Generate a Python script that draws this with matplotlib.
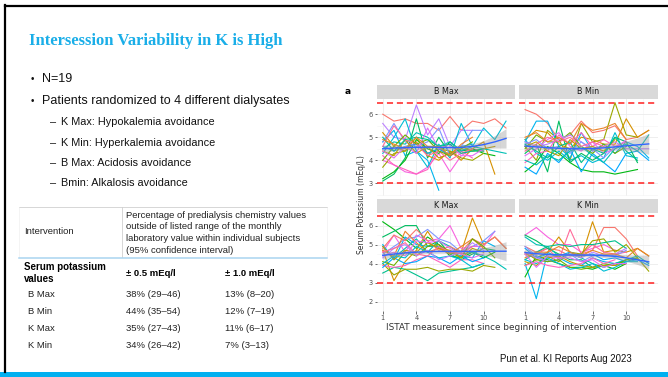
import numpy as np
import matplotlib
matplotlib.use("Agg")
import matplotlib.pyplot as plt

W, H = 668, 377

# ---- slide text ----
title = "Intersession Variability in K is High"
bullets = ["N=19", "Patients randomized to 4 different dialysates"]
sub_bullets = ["K Max: Hypokalemia avoidance",
               "K Min: Hyperkalemia avoidance",
               "B Max: Acidosis avoidance",
               "Bmin: Alkalosis avoidance"]
table_head = ["Percentage of predialysis chemistry values",
              "outside of listed range of the monthly",
              "laboratory value within individual subjects",
              "(95% confidence interval)"]
row_names = ["B Max", "B Min", "K Max", "K Min"]
within_05 = ["38% (29\u201346)", "44% (35\u201354)", "35% (27\u201343)", "34% (26\u201342)"]
within_10 = ["13% (8\u201320)", "12% (7\u201319)", "11% (6\u201317)", "7% (3\u201313)"]
citation = "Pun et al. KI Reports Aug 2023"

# ---- chart data: serum K per patient (key = patient number 0..18) ----
panel_names = ["B Max", "B Min", "K Max", "K Min"]

bmax_k = {
    0: [6.0, 5.7, 5.8, 5.6, 5.6, 5.3, 5.9, 5.3, 5.7, 5.6, 5.8, 5.4],
    14: [5.6, 5.0, 4.9, 6.4, 5.1, 5.8, 4.6, 5.3, 5.3],
    16: [4.0, 3.8, 3.5, 3.4, 3.7, 4.3, 3.5, 4.2, 4.5, 4.4],
    10: [4.3, 5.0, 5.8, 4.4, 3.7, 4.7, 4.1, 5.6, 4.6, 5.4, 4.9, 5.7],
    11: [4.8, 5.3, 4.2, 4.4, 4.0, 2.7],
    7: [3.1, 3.4, 4.1, 5.8, 4.1, 5.0, 4.3, 4.5, 4.4, 4.4],
    6: [3.2, 3.5, 4.0, 4.9, 4.5, 4.3, 4.8, 4.4, 4.5, 4.3, 4.2],
    2: [5.2, 4.6, 4.4, 4.8, 4.2, 4.0, 4.4, 4.0, 4.5, 4.8, 3.4],
    4: [3.7, 4.3, 4.4, 5.0, 4.3, 4.5, 4.4, 4.1, 4.0, 4.3],
    17: [4.2, 3.8, 3.6, 3.4, 3.6, 4.5, 4.2, 4.4, 4.1],
    9: [4.5, 4.8, 4.7, 5.2, 5.0, 4.6, 4.8, 4.4, 4.6, 4.5, 4.4, 4.3],
    12: [4.6, 4.4, 4.6, 4.7, 4.3, 4.5, 4.2, 4.6, 4.7],
    13: [4.8, 5.6, 4.8, 4.6, 4.8, 5.4, 4.2, 4.6, 5.3, 5.3],
    3: [4.4, 4.2, 4.9, 4.3, 4.6, 4.1, 4.3, 4.6, 4.4, 4.5, 4.6],
    18: [4.6, 5.5, 4.9, 4.7, 4.2, 4.4, 4.0, 4.3, 4.5],
    5: [4.0, 4.6, 5.1, 4.7, 4.9, 4.4, 4.2, 4.5, 4.8],
    15: [4.4, 4.1, 4.6, 4.3, 5.4, 4.5, 4.7, 4.2, 4.2, 4.5],
    8: [5.0, 4.4, 4.9, 5.0, 4.9, 4.6, 4.7, 4.3, 4.4, 4.5],
    1: [4.9, 4.7, 4.5, 5.0, 4.6, 4.6, 4.2, 4.7, 5.0],
}
bmin_k = {
    0: [6.2, 6.0, 5.6, 4.9, 5.1, 5.7, 5.2, 5.3, 5.5, 4.9, 5.0, 5.3],
    4: [4.6, 4.0, 5.3, 4.9, 4.0, 5.6, 4.8, 4.9, 6.5, 5.1, 5.0],
    2: [4.9, 5.3, 5.2, 4.7, 4.5, 5.0, 4.9, 4.7, 4.7, 5.8, 5.0, 5.3],
    11: [4.8, 5.7, 5.7, 4.6, 4.1, 5.2, 4.4, 4.7, 4.3, 4.8, 4.6, 4.1],
    6: [3.5, 3.9, 4.6, 4.3, 3.9, 3.6, 3.5, 3.5, 3.4, 3.5, 3.6],
    12: [3.7, 3.4, 4.3, 3.9, 4.5, 3.5, 4.3, 3.9, 3.5, 4.3, 4.4, 4.0],
    10: [4.9, 4.3, 4.0, 4.4, 4.0, 4.2, 3.9, 4.1, 5.2, 4.2, 4.1],
    7: [4.3, 4.7, 3.5, 5.7, 3.9, 4.3, 4.0, 4.3, 5.0, 4.8, 3.9],
    5: [4.5, 5.1, 4.8, 4.8, 5.2, 4.6, 4.3, 4.7, 4.3, 4.6],
    14: [4.8, 4.6, 4.7, 4.9, 5.1, 4.8, 4.4, 4.6, 4.8, 4.5, 4.5, 4.5],
    17: [3.9, 4.3, 4.4, 5.1, 4.7, 5.2, 4.6, 4.9, 4.6, 4.8],
    13: [4.7, 4.9, 4.5, 4.6, 4.3, 4.8, 4.5, 4.1, 4.6],
    15: [4.2, 4.5, 4.9, 5.2, 4.6, 4.4, 4.8, 4.3, 4.5, 4.9],
    3: [4.6, 4.8, 4.4, 4.2, 4.9, 4.5, 4.6, 4.4, 4.9],
    9: [4.0, 3.8, 4.2, 4.0, 4.4, 4.6, 4.2, 3.9, 4.5, 4.7, 4.4, 5.1],
    8: [4.7, 4.4, 4.1, 4.6, 4.8, 3.9, 4.5, 4.3, 5.0, 4.4, 4.0],
    1: [5.0, 5.2, 4.8, 5.0, 4.7, 5.6, 5.3, 5.4, 5.6, 4.9],
    18: [4.4, 4.7, 5.0, 4.8, 5.0, 4.6, 4.8, 4.6],
}
kmax_k = {
    6: [6.2, 5.8, 5.3, 4.8, 5.4, 5.0, 4.4, 4.3, 4.6, 4.3, 4.6],
    7: [5.4, 5.7, 6.0, 6.0, 4.9, 5.2, 4.5, 4.2, 4.5, 4.8, 4.7],
    2: [4.7, 3.1, 4.1, 4.7, 5.7, 4.8, 4.6, 4.6, 6.4, 5.0, 5.4, 4.8],
    16: [4.6, 5.5, 4.6, 5.5, 5.2, 5.3, 6.0, 4.8, 4.9, 4.9, 5.7],
    8: [3.5, 3.8, 3.7, 3.4, 3.1, 3.5, 3.6, 3.7, 3.8, 4.0],
    4: [4.0, 3.4, 3.7, 3.7, 3.8, 3.6, 3.7, 3.7, 3.6, 3.9, 3.8],
    9: [4.9, 4.3, 4.8, 5.3, 4.6, 5.2, 4.9, 4.5, 4.6, 4.4, 4.1, 3.7],
    11: [5.0, 4.2, 5.4, 5.0, 4.9, 4.9, 4.6, 4.4, 4.3, 5.2, 4.9],
    17: [3.9, 3.8, 3.9, 4.2, 4.4, 4.1, 3.8, 4.2, 4.2, 4.0],
    13: [4.5, 4.9, 5.3, 5.4, 5.8, 5.3, 5.1, 4.6, 4.9, 5.2, 5.7],
    0: [4.8, 5.5, 5.2, 5.8, 5.2, 4.7, 4.9, 4.6, 5.3, 5.0, 5.4, 4.8],
    12: [3.8, 4.3, 4.0, 4.1, 4.4, 4.3, 4.0, 4.4, 4.1, 4.3],
    1: [4.7, 4.4, 5.7, 5.1, 4.6, 4.8, 4.5, 4.9, 5.3, 4.8],
    5: [4.1, 3.9, 4.6, 4.4, 4.9, 5.0, 4.6, 4.3, 5.3, 4.9, 4.3],
    3: [4.9, 4.2, 4.7, 4.6, 5.1, 4.8, 4.7, 4.3, 4.8, 4.6],
    15: [4.4, 4.6, 4.4, 5.2, 5.1, 5.2, 4.8, 4.5, 4.3, 4.5],
    10: [4.0, 4.4, 4.3, 4.9, 4.6, 4.3, 4.4, 4.2, 3.8, 4.0],
    14: [4.3, 4.8, 5.0, 4.4, 4.7, 4.2, 4.4, 4.6, 5.1, 4.7],
    18: [4.6, 4.8, 5.1, 4.5, 4.4, 4.9, 4.6, 4.5, 4.9],
}
kmin_k = {
    11: [4.0, 2.15, 4.6, 4.3, 4.0, 3.9, 4.3, 4.1, 4.0, 4.2],
    16: [5.5, 5.9, 5.4, 5.0, 5.0, 4.6, 4.8, 5.0, 4.7],
    2: [4.5, 4.3, 4.6, 5.4, 4.6, 4.3, 6.2, 4.6, 4.7, 4.6, 4.8, 4.4],
    0: [4.9, 4.6, 4.8, 4.7, 4.4, 4.5, 4.7, 5.9, 5.9, 5.3, 4.4],
    18: [4.5, 4.5, 4.8, 4.2, 5.8, 4.5, 5.0, 4.6, 4.5, 4.6],
    6: [3.3, 4.4, 4.2, 4.0, 3.8, 3.8, 3.7, 3.9, 3.7, 4.0],
    7: [5.5, 5.2, 4.8, 4.5, 4.2, 4.2, 3.8, 3.9, 4.0, 4.1, 4.3],
    4: [4.6, 4.2, 4.4, 4.1, 4.6, 4.5, 5.2, 5.3, 4.6, 5.0, 4.3, 3.6],
    9: [5.4, 5.0, 4.9, 4.4, 4.5, 4.3, 4.0, 3.8, 4.0, 4.2, 4.4, 4.0],
    8: [4.2, 4.6, 4.9, 5.0, 4.9, 5.0, 5.0, 5.1, 5.2, 4.8],
    12: [4.8, 4.3, 4.5, 4.4, 4.6, 4.4, 4.5, 4.2, 4.3, 4.1, 4.2, 3.9],
    14: [4.6, 4.3, 4.1, 4.4, 4.5, 4.3, 4.6, 4.4, 4.5, 4.8],
    13: [4.9, 4.4, 4.1, 4.2, 4.5, 4.1, 4.4, 4.5, 4.4, 4.7],
    5: [3.9, 4.2, 4.1, 4.2, 3.8, 3.7, 3.8, 4.0, 3.9, 4.2, 4.3],
    3: [4.1, 3.9, 4.3, 4.4, 4.1, 3.9, 3.8, 3.9, 3.9, 4.0],
    1: [4.3, 4.6, 4.6, 4.9, 4.6, 4.4, 4.7, 4.5, 4.5, 4.3, 4.8, 4.4],
    10: [4.2, 4.0, 4.3, 4.0, 3.7, 3.8, 4.0, 3.6, 3.8, 4.1, 4.1],
    17: [3.9, 4.1, 3.9, 3.8, 3.9, 4.0, 4.3, 4.0, 4.2],
    15: [4.5, 3.8, 4.4, 4.3, 4.3, 4.1, 4.2, 3.8, 4.0, 4.0],
}

# loess fit (value and half-width of the band)
smooth_x = list(range(1, 13))
bmax_fit = [4.50, 4.53, 4.55, 4.56, 4.57, 4.56, 4.55, 4.56, 4.60, 4.68, 4.80, 4.95]
bmax_se = [0.17, 0.12, 0.10, 0.09, 0.09, 0.09, 0.09, 0.10, 0.12, 0.17, 0.27, 0.42]
bmin_fit = [4.62, 4.58, 4.55, 4.52, 4.50, 4.50, 4.51, 4.54, 4.58, 4.63, 4.67, 4.71]
bmin_se = [0.18, 0.12, 0.10, 0.09, 0.09, 0.09, 0.10, 0.11, 0.14, 0.20, 0.30, 0.45]
kmax_fit = [4.43, 4.50, 4.56, 4.60, 4.63, 4.64, 4.64, 4.64, 4.64, 4.64, 4.65, 4.65]
kmax_se = [0.20, 0.14, 0.11, 0.10, 0.10, 0.10, 0.10, 0.11, 0.14, 0.20, 0.32, 0.50]
kmin_fit = [4.58, 4.52, 4.48, 4.46, 4.45, 4.45, 4.44, 4.42, 4.38, 4.30, 4.20, 4.09]
kmin_se = [0.20, 0.13, 0.10, 0.09, 0.09, 0.09, 0.09, 0.10, 0.12, 0.17, 0.25, 0.36]

k_low, k_high = 3.0, 6.5


def hue_pal(n, l=65, c=100):
    # ggplot2 default discrete palette (HCL, polar Luv)
    hues = np.linspace(15, 375, n + 1)[:-1]
    Xn, Yn, Zn = 95.047, 100.0, 108.883
    un = 4 * Xn / (Xn + 15 * Yn + 3 * Zn)
    vn = 9 * Yn / (Xn + 15 * Yn + 3 * Zn)
    Y = Yn * ((l + 16) / 116) ** 3
    M = np.array([[3.2406, -1.5372, -0.4986],
                  [-0.9689, 1.8758, 0.0415],
                  [0.0557, -0.2040, 1.0570]])
    cols = []
    for h in hues:
        u = c * np.cos(np.radians(h))
        v = c * np.sin(np.radians(h))
        up = u / (13 * l) + un
        vp = v / (13 * l) + vn
        X = Y * 9 * up / (4 * vp)
        Z = Y * (12 - 3 * up - 20 * vp) / (4 * vp)
        rgb = M @ (np.array([X, Y, Z]) / 100)
        rgb = np.clip(rgb, 0, None)
        rgb = np.where(rgb <= 0.0031308, 12.92 * rgb, 1.055 * rgb ** (1 / 2.4) - 0.055)
        cols.append(tuple(np.clip(rgb, 0, 1)))
    return cols


colors = hue_pal(19)


def box(x0, y0, x1, y1):
    return [x0 / W, 1 - y1 / H, (x1 - x0) / W, (y1 - y0) / H]


def txt(x, y, s, **kw):
    fig.text(x / W, 1 - y / H, s, **kw)


fig = plt.figure(figsize=(W / 100, H / 100), dpi=100)
fig.patch.set_facecolor("white")

# slide frame and bottom bar
frame = fig.add_axes([0, 0, 1, 1])
frame.set_xlim(0, W)
frame.set_ylim(H, 0)
frame.axis("off")
frame.plot([5, W], [5.5, 5.5], color="black", lw=1.6)
frame.plot([5.3, 5.3], [5, 371.5], color="black", lw=1.6)
frame.fill_between([0, W], 371.5, H, color="#00b0f0", lw=0)

# table rules
frame.plot([19, 327], [207, 207], color="#d0d0d0", lw=0.6)
frame.plot([19, 19], [207, 257], color="#ececec", lw=0.4)
frame.plot([327, 327], [207, 257], color="#ececec", lw=0.4)
frame.plot([121.7, 121.7], [207, 257], color="#d0d0d0", lw=0.6)
frame.plot([19, 327], [257.5, 257.5], color="#a9d4f0", lw=1.1)

sans = "Liberation Sans"
txt(29.3, 45, title, family="Liberation Serif", weight="bold", fontsize=12,
    color="#1aaee8", va="baseline")
for i, s in enumerate(bullets):
    y = [79, 100.7][i]
    txt(31, y, "\u2022", family=sans, fontsize=7, va="center", color="#111111")
    txt(41.7, y, s, family=sans, fontsize=9, va="center", color="#111111")
for i, s in enumerate(sub_bullets):
    y = [122.3, 142.7, 163.3, 183][i]
    txt(50, y, "\u2013", family=sans, fontsize=7.8, va="center", color="#111111")
    txt(60.7, y, s, family=sans, fontsize=7.8, va="center", color="#111111")

txt(24, 232, "Intervention", family=sans, fontsize=6.8, va="center", color="#222222")
for i, s in enumerate(table_head):
    txt(126, 215 + 11.7 * i, s, family=sans, fontsize=6.8, va="center", color="#222222")
txt(24, 266.5, "Serum potassium", family=sans, fontsize=7, weight="bold", va="center")
txt(24, 279, "values", family=sans, fontsize=7, weight="bold", va="center")
txt(126, 274, "\u00b1 0.5 mEq/l", family=sans, fontsize=6.8, weight="bold", va="center")
txt(225.3, 274, "\u00b1 1.0 mEq/l", family=sans, fontsize=6.8, weight="bold", va="center")
for i, name in enumerate(row_names):
    y = 294.3 + 17.2 * i
    txt(28.3, y, name, family=sans, fontsize=6.8, va="center", color="#222222")
    txt(126, y, within_05[i], family=sans, fontsize=6.8, va="center", color="#222222")
    txt(225.3, y, within_10[i], family=sans, fontsize=6.8, va="center", color="#222222")

txt(500, 359, citation, family=sans, fontsize=6.9, va="center", color="#111111")

# ---- faceted chart ----
cfont = "DejaVu Sans"
panel_data = [bmax_k, bmin_k, kmax_k, kmin_k]
panel_fit = [bmax_fit, bmin_fit, kmax_fit, kmin_fit]
panel_se = [bmax_se, bmin_se, kmax_se, kmin_se]
cols_x = [(376.7, 515), (519, 657.7)]
rows_y = [(85, 99, 196), (198.5, 212.5, 311)]
row_ylim = [(2.45, 6.66), (1.79, 6.69)]
row_yticks = [[3, 4, 5, 6], [2, 3, 4, 5, 6]]

for p in range(4):
    r, c = divmod(p, 2)
    x0, x1 = cols_x[c]
    s0, s1, y1 = rows_y[r]
    strip = fig.add_axes(box(x0, s0, x1, s1))
    strip.set_facecolor("#d9d9d9")
    strip.set_xticks([])
    strip.set_yticks([])
    for sp in strip.spines.values():
        sp.set_visible(False)
    strip.text(0.5, 0.5, panel_names[p], transform=strip.transAxes, ha="center",
               va="center", fontsize=5.8, family=cfont, color="#1a1a1a")

    ax = fig.add_axes(box(x0, s1, x1, y1))
    ax.set_facecolor("white")
    for sp in ax.spines.values():
        sp.set_visible(False)
    ax.set_xlim(0.46, 12.8)
    ax.set_ylim(*row_ylim[r])
    ax.set_xticks([1, 4, 7, 10])
    ax.set_xticks([2.5, 5.5, 8.5, 11.5], minor=True)
    ax.set_yticks(row_yticks[r])
    ax.set_yticks([t + 0.5 for t in row_yticks[r][:-1]] + [row_yticks[r][0] - 0.5], minor=True)
    ax.grid(which="major", color="#ebebeb", lw=0.6)
    ax.grid(which="minor", color="#f4f4f4", lw=0.4)
    ax.set_axisbelow(True)
    ax.tick_params(which="minor", length=0)
    ax.tick_params(which="major", length=1.8, width=0.5, color="#333333",
                   labelsize=4.8, labelcolor="#4d4d4d", pad=1)
    if r == 0:
        ax.tick_params(axis="x", labelbottom=False, length=0)
    if c == 1:
        ax.tick_params(axis="y", labelleft=False, length=0)

    for pid, vals in panel_data[p].items():
        ax.plot(range(1, len(vals) + 1), vals, color=colors[pid], lw=0.8, zorder=2)

    fit = np.array(panel_fit[p])
    se = np.array(panel_se[p])
    ax.fill_between(smooth_x, fit - se, fit + se, color="#999999", alpha=0.4, lw=0, zorder=3)
    ax.plot(smooth_x, fit, color="#3366ff", lw=1.0, zorder=4)

    for yv in (k_low, k_high):
        ax.axhline(yv, color="#ff2020", lw=1.1, dashes=(4, 2.5), zorder=5)

txt(345, 92, "a", family=cfont, fontsize=6.5, weight="bold", va="center")
txt(361.5, 205, "Serum Potassium (mEq/L)", family=cfont, fontsize=5.5, rotation=90,
    ha="center", va="center", color="#333333")
txt(501, 327, "ISTAT measurement since beginning of intervention", family=cfont,
    fontsize=6.4, ha="center", va="center", color="#333333")

fig.savefig("out.png", dpi=100)
